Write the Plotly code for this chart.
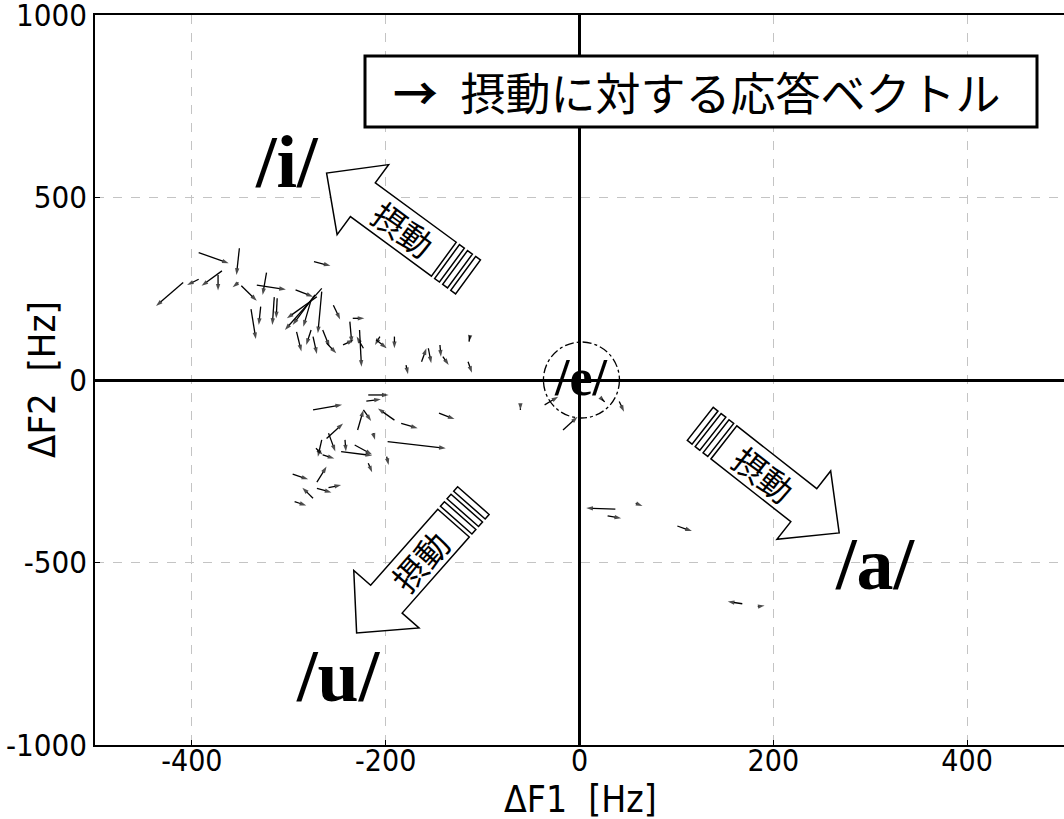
import math
import plotly.graph_objects as go

# Response vectors to the perturbation: start point (x0, y0) -> end point (x1, y1) in Hz
x0 = [-393, -351, -409, -393, -369, -373, -352, -349, -323, -333, -339, -329, -315, -312,
      -293, -266, -271, -273, -277, -266, -254, -292, -277, -275, -265, -261, -244, -237,
      -234, -227, -223, -210, -206, -191, -179, -163, -156, -144, -141, -113, -115, -274,
      -218, -220, -275, -191, -229, -223, -184, -145, -198, -246, -232, -242, -259, -261,
      -266, -272, -265, -218, -199, -271, -296, -275, -271, -259, -294, -213,
      -17, -36, -61, 41, 37, 29, 58, 101, 168, 184, 23]
y0 = [349, 361, 267, 276, 299, 288, 267, 258, 294, 260, 194, 201, 227, 224,
      247, 251, 228, 233, 219, 242, 205, 132, 137, 119, 137, 101, 96, 160,
      169, 137, 87, 110, 119, 119, 41, 50, 87, 96, 64, 121, 50, 324,
      -41, -58, -82, -110, -137, -82, -119, -91, -169, -196, -178, -164, -146, -160,
      -164, -187, -205, -228, -210, -280, -258, -324, -297, -295, -333, -146,
      -137, -68, -78, -59, -354, -372, -338, -400, -613, -621, -52]
x1 = [-362, -354, -437, -405, -390, -373, -358, -333, -327, -303, -334, -331, -317, -313,
      -275, -304, -302, -296, -285, -270, -247, -287, -282, -271, -258, -251, -233, -235,
      -222, -225, -230, -199, -211, -191, -177, -158, -153, -143, -135, -114, -111, -257,
      -197, -205, -245, -208, -223, -215, -167, -129, -138, -214, -214, -241, -252, -244,
      -270, -265, -253, -214, -197, -261, -280, -286, -256, -246, -282, -211,
      -2, -22, -61, 46, 7, 43, 65, 116, 153, 191, 26]
y1 = [320, 288, 203, 260, 258, 245, 254, 217, 233, 248, 112, 151, 151, 169,
      228, 137, 169, 151, 146, 128, 166, 78, 96, 71, 91, 73, 110, 101,
      169, 36, 119, 87, 96, 87, 16, 87, 46, 64, 41, 105, 20, 313,
      -41, -53, -68, -78, -82, -112, -132, -107, -187, -207, -204, -196, -196, -119,
      -210, -205, -215, -253, -233, -237, -272, -295, -308, -288, -344, -164,
      -101, -46, -82, -87, -351, -379, -345, -414, -607, -618, -60]

x_ticks = [-400, -200, 0, 200, 400]
x_tick_text = ["-400", "-200", "0", "200", "400"]
y_ticks = [-1000, -500, 0, 500, 1000]
y_tick_text = ["-1000", "-500", "0", "500", "1000"]

# Vowel labels
vowels = ["/i/", "/a/", "/u/"]
vowel_x = [-302, 305, -249]
vowel_y = [598, -505, -810]

# Perturbation directions (tail -> tip), Hz
pert_tail = [(-140, 331), (149, -171), (-130, -392)]
pert_tip = [(-261, 567), (268, -419), (-230, -693)]

# ---- figure geometry ----
W, H = 1064, 819
ML, MR, MT, MB = 95, 0, 15, 74
PW, PH = W - ML - MR, H - MT - MB
XR = (-500, 500)
YR = (-1000, 1000)


def to_px(x, y):
    return (ML + (x - XR[0]) / (XR[1] - XR[0]) * PW,
            MT + (YR[1] - y) / (YR[1] - YR[0]) * PH)


def to_data(px, py):
    return (XR[0] + (px - ML) / PW * (XR[1] - XR[0]),
            YR[1] - (py - MT) / PH * (YR[1] - YR[0]))


def px_to_paper(px, py):
    return (px - ML) / PW, 1 - (py - MT) / PH


def path_from_px(points):
    pts = [to_data(*p) for p in points]
    return "M" + " L".join(f"{x:.2f},{y:.2f}" for x, y in pts) + " Z"


fig = go.Figure()

# response vectors: one trace, segments separated by gaps, arrowhead on the end point
xs, ys, sizes = [], [], []
for a, b, c, d in zip(x0, y0, x1, y1):
    xs += [a, c, None]
    ys += [b, d, None]
    sizes += [0, 7, 0]

fig.add_trace(go.Scatter(
    x=xs, y=ys, mode="lines+markers",
    line=dict(color="black", width=1.3),
    marker=dict(symbol="arrow", size=sizes, angleref="previous", color="black",
                line=dict(width=0)),
    hoverinfo="skip", connectgaps=False,
))

shapes = []
annotations = []

# block arrows marking the perturbation direction
SHAFT_HALF, HEAD_HALF, HEAD_LEN = 21, 43.5, 45
for (tx, ty), (hx, hy) in zip(pert_tail, pert_tip):
    tpx, tpy = to_px(tx, ty)
    hpx, hpy = to_px(hx, hy)
    dx, dy = hpx - tpx, hpy - tpy
    length = math.hypot(dx, dy)
    ux, uy = dx / length, dy / length
    nx, ny = -uy, ux
    bx, by = hpx - ux * HEAD_LEN, hpy - uy * HEAD_LEN

    def p(cx, cy, s):
        return (cx + nx * s, cy + ny * s)

    body = [p(tpx, tpy, SHAFT_HALF), p(bx, by, SHAFT_HALF), p(bx, by, HEAD_HALF),
            (hpx, hpy), p(bx, by, -HEAD_HALF), p(bx, by, -SHAFT_HALF),
            p(tpx, tpy, -SHAFT_HALF)]
    shapes.append(dict(type="path", path=path_from_px(body), xref="x", yref="y",
                       fillcolor="white", line=dict(color="black", width=1.5),
                       layer="above"))
    # three bars behind the tail
    for k in range(3):
        s0, s1 = 4 + 10 * k, 10 + 10 * k
        c0 = (tpx - ux * s0, tpy - uy * s0)
        c1 = (tpx - ux * s1, tpy - uy * s1)
        bar = [p(*c0, SHAFT_HALF), p(*c1, SHAFT_HALF),
               p(*c1, -SHAFT_HALF), p(*c0, -SHAFT_HALF)]
        shapes.append(dict(type="path", path=path_from_px(bar), xref="x", yref="y",
                           fillcolor="white", line=dict(color="black", width=1.5),
                           layer="above"))
    # label inside the shaft
    mid = (length - HEAD_LEN) / 2
    mx, my = to_data(tpx + ux * mid, tpy + uy * mid)
    ang = math.degrees(math.atan2(uy, ux))
    if ang > 90:
        ang -= 180
    elif ang < -90:
        ang += 180
    annotations.append(dict(x=mx, y=my, xref="x", yref="y", text="摂動",
                            showarrow=False, textangle=ang,
                            xanchor="center", yanchor="middle",
                            font=dict(family="Noto Sans CJK JP", size=33, color="black")))

# dashed circle around /e/
e_cx, e_cy = to_px(2, 0)
R = 38
ex0, ey0 = to_data(e_cx - R, e_cy + R)
ex1, ey1 = to_data(e_cx + R, e_cy - R)
shapes.append(dict(type="circle", xref="x", yref="y", x0=ex0, y0=ey0, x1=ex1, y1=ey1,
                   line=dict(color="black", width=1.3, dash="dashdot"), layer="above"))
annotations.append(dict(x=2, y=8, xref="x", yref="y", text="<b>/e/</b>", showarrow=False,
                        xanchor="center", yanchor="middle",
                        font=dict(family="Liberation Serif", size=52, color="black")))

for t, vx, vy in zip(vowels, vowel_x, vowel_y):
    annotations.append(dict(x=vx, y=vy, xref="x", yref="y", text=f"<b>{t}</b>",
                            showarrow=False, xanchor="center", yanchor="middle",
                            font=dict(family="Liberation Serif", size=74, color="black")))

# legend box
bx0, by0 = px_to_paper(365, 127)
bx1, by1 = px_to_paper(1037, 56)
shapes.append(dict(type="rect", xref="paper", yref="paper", x0=bx0, y0=by0, x1=bx1, y1=by1,
                   fillcolor="white", line=dict(color="black", width=3), layer="above"))
lx, ly = px_to_paper(697, 92)
annotations.append(dict(x=lx, y=ly, xref="paper", yref="paper",
                        xanchor="center", yanchor="middle",
                        text="<b>→</b>\u2002摂動に対する応答ベクトル", showarrow=False,
                        font=dict(family="Noto Sans CJK JP", size=45, color="black")))

# axis titles
AX_FONT = "Liberation Sans Narrow, DejaVu Sans Condensed, Liberation Sans, sans-serif"
tx_, ty_ = px_to_paper(580, 799)
annotations.append(dict(x=tx_, y=ty_, xref="paper", yref="paper",
                        xanchor="center", yanchor="middle",
                        text="ΔF1\u00a0\u00a0[Hz]", showarrow=False,
                        font=dict(family=AX_FONT, size=37, color="black")))
tx_, ty_ = px_to_paper(42, 380)
annotations.append(dict(x=tx_, y=ty_, xref="paper", yref="paper",
                        xanchor="center", yanchor="middle",
                        text="ΔF2\u00a0\u00a0[Hz]", showarrow=False, textangle=-90,
                        font=dict(family=AX_FONT, size=38, color="black")))

fig.update_layout(
    width=W, height=H,
    margin=dict(l=ML, r=MR, t=MT, b=MB, autoexpand=False),
    paper_bgcolor="white", plot_bgcolor="white",
    showlegend=False,
    shapes=shapes, annotations=annotations,
    xaxis=dict(range=list(XR), tickvals=x_ticks, ticktext=x_tick_text,
               showgrid=True, gridcolor="#c4c4c4", griddash="dash", gridwidth=1,
               zeroline=True, zerolinecolor="black", zerolinewidth=2.5,
               showline=True, linecolor="black", linewidth=1.5, mirror=True,
               ticks="inside", ticklen=5, tickcolor="black",
               ticklabelstandoff=-12, ticklabeloverflow="allow",
               tickfont=dict(family=AX_FONT, size=30, color="black")),
    yaxis=dict(range=list(YR), tickvals=y_ticks, ticktext=y_tick_text,
               showgrid=True, gridcolor="#c4c4c4", griddash="dash", gridwidth=1,
               zeroline=True, zerolinecolor="black", zerolinewidth=2.5,
               showline=True, linecolor="black", linewidth=1.5, mirror=False,
               ticks="inside", ticklen=5, tickcolor="black",
               ticklabeloverflow="allow",
               tickfont=dict(family=AX_FONT, size=31, color="black")),
)

fig.write_html("out.html")
